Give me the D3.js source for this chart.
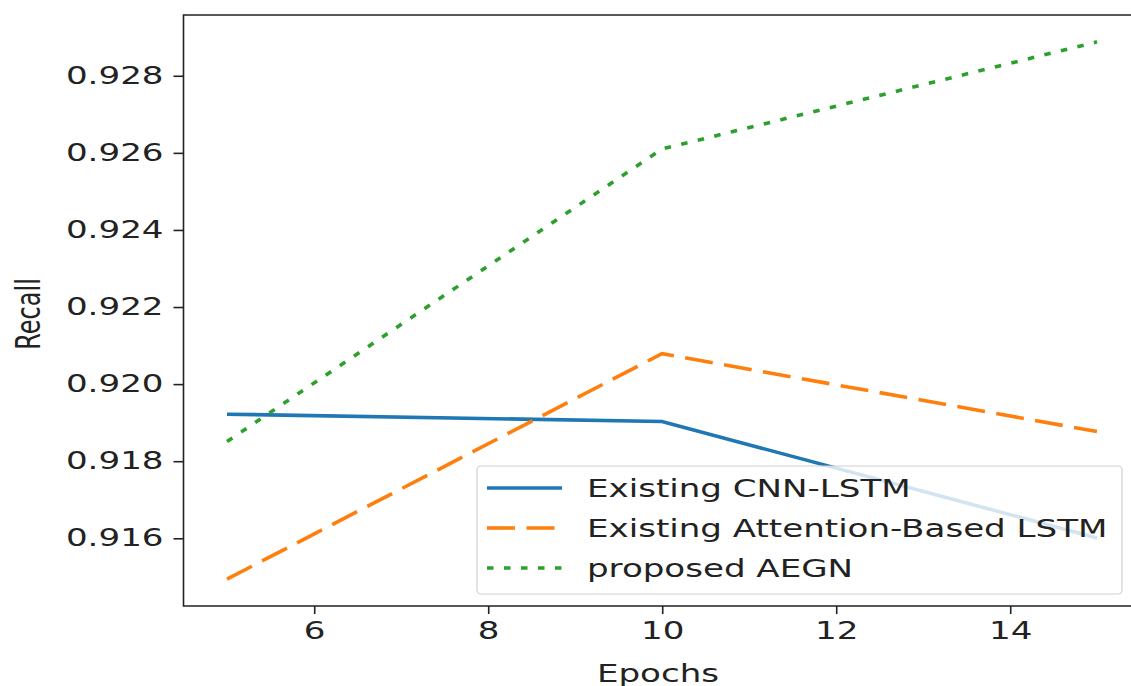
<!DOCTYPE html>
<html lang="en">
<head>
    <meta charset="UTF-8">
    <title>Recall vs Epochs</title>
    <script src="https://d3js.org/d3.v7.min.js"></script>
    <style>
        body { margin: 0; background: #fff; }
        text { font-family: "DejaVu Sans", sans-serif; fill: #222; }
    </style>
</head>
<body>
    <script>

        var epochs = [5, 10, 15];
        var cnnLstm = [0.91922, 0.91903, 0.91601];
        var attnLstm = [0.91494, 0.92079, 0.91877];
        var aegn = [0.91851, 0.9261, 0.92888];
        var seriesNames = ["Existing CNN-LSTM", "Existing Attention-Based LSTM", "proposed AEGN"];
        var xTicks = [6, 8, 10, 12, 14];
        var yTicks = [0.916, 0.918, 0.920, 0.922, 0.924, 0.926, 0.928];

        // the picture is stretched sideways, so draw in a narrower box and stretch it
        var sx = 1.42;
        var W = 1131, H = 686;
        var fs = 24;

        var svg = d3.select("body")
            .append("svg")
            .attr("width", W)
            .attr("height", H)
            .attr("viewBox", "0 0 " + (W / sx) + " " + H)
            .attr("preserveAspectRatio", "none");

        var plotL = 183.5 / sx, plotR = 1140.5 / sx, plotT = 15, plotB = 606;

        var all = cnnLstm.concat(attnLstm, aegn);
        var lo = d3.min(all), hi = d3.max(all), pad = (hi - lo) * 0.05;

        var x = d3.scaleLinear().domain([4.5, 15.5]).range([plotL, plotR]);
        var y = d3.scaleLinear().domain([lo - pad, hi + pad]).range([plotB, plotT]);

        // dash lengths are in screen pixels because of non-scaling-stroke
        var series = [
            { name: seriesNames[0], values: cnnLstm, color: "#1f77b4", dash: null },
            { name: seriesNames[1], values: attnLstm, color: "#ff7f0e", dash: "28,11.5" },
            { name: seriesNames[2], values: aegn, color: "#2ca02c", dash: "6.5,10.5" }
        ];

        var line = d3.line()
            .x(function (d, i) { return x(epochs[i]); })
            .y(function (d) { return y(d); });

        svg.selectAll("path.series")
            .data(series)
            .enter()
            .append("path")
            .attr("class", "series")
            .attr("d", function (d) { return line(d.values); })
            .attr("fill", "none")
            .attr("stroke", function (d) { return d.color; })
            .attr("stroke-width", 3.6)
            .attr("stroke-dasharray", function (d) { return d.dash; })
            .attr("vector-effect", "non-scaling-stroke");

        // axes
        var xAxis = svg.append("g")
            .attr("transform", "translate(0," + plotB + ")")
            .call(d3.axisBottom(x).tickValues(xTicks).tickSize(8).tickPadding(8).tickFormat(d3.format("d")));
        var yAxis = svg.append("g")
            .attr("transform", "translate(" + plotL + ",0)")
            .call(d3.axisLeft(y).tickValues(yTicks).tickSize(10 / sx).tickPadding(10 / sx).tickFormat(d3.format(".3f")));

        [xAxis, yAxis].forEach(function (g) {
            g.select(".domain").remove();
            g.selectAll("line").attr("stroke", "#222").attr("stroke-width", 1.6).attr("vector-effect", "non-scaling-stroke");
            g.selectAll("text").style("font-size", fs + "px").attr("fill", "#222");
        });

        // frame
        svg.append("rect")
            .attr("x", plotL).attr("y", plotT)
            .attr("width", plotR - plotL).attr("height", plotB - plotT)
            .attr("fill", "none")
            .attr("stroke", "#222")
            .attr("stroke-width", 1.6)
            .attr("vector-effect", "non-scaling-stroke");

        svg.append("text")
            .attr("x", 658 / sx).attr("y", 682)
            .attr("text-anchor", "middle")
            .style("font-size", fs + "px")
            .text("Epochs");

        svg.append("text")
            .attr("transform", "translate(" + (40 / sx) + ",314) rotate(-90)")
            .attr("text-anchor", "middle")
            .style("font-size", fs + "px")
            .text("Recall");

        // legend
        var lg = svg.append("g");
        lg.append("rect")
            .attr("x", 477 / sx).attr("y", 466)
            .attr("width", 645 / sx).attr("height", 128)
            .attr("rx", 4 / sx).attr("ry", 4)
            .attr("fill", "#fff").attr("fill-opacity", 0.8)
            .attr("stroke", "#d0d0d0").attr("stroke-width", 1.2)
            .attr("vector-effect", "non-scaling-stroke");

        var rows = lg.selectAll("g.row")
            .data(series)
            .enter()
            .append("g")
            .attr("class", "row")
            .attr("transform", function (d, i) { return "translate(0," + (488 + i * 40) + ")"; });

        rows.append("line")
            .attr("x1", 487 / sx).attr("x2", 562 / sx)
            .attr("stroke", function (d) { return d.color; })
            .attr("stroke-width", 3.6)
            .attr("stroke-dasharray", function (d) { return d.dash; })
            .attr("vector-effect", "non-scaling-stroke");

        rows.append("text")
            .attr("x", 587 / sx).attr("dy", "0.36em")
            .style("font-size", fs + "px")
            .text(function (d) { return d.name; });

    </script>
</body>
</html>
